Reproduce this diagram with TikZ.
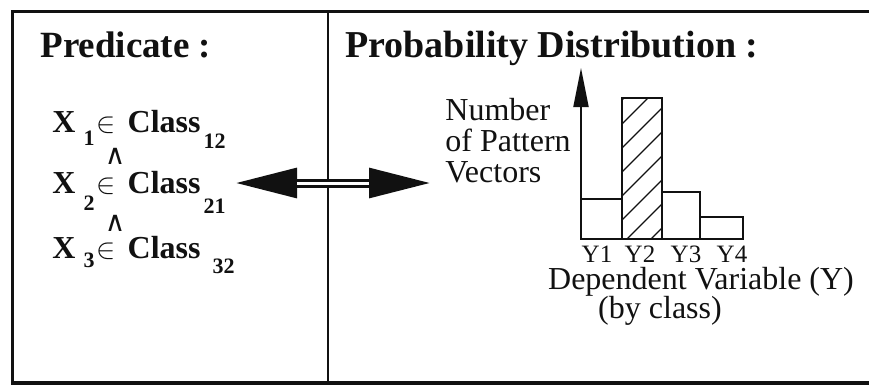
\documentclass[tikz,border=0pt]{standalone}
\usepackage{fontspec}
\setmainfont{Liberation Serif}
\newfontfamily\symfont{DejaVu Sans}
\usetikzlibrary{arrows.meta,positioning}
\definecolor{ink}{HTML}{111111}
\tikzset{
  frameline/.style ={draw=ink, line width=1.75pt},
  divline/.style   ={draw=ink, line width=1pt},
  headtxt/.style   ={font=\fontsize{18.5}{22}\selectfont\bfseries,
                     anchor=base west, inner sep=0pt, text=ink},
  condtxt/.style   ={font=\fontsize{16}{19}\selectfont\bfseries,
                     anchor=base west, inner sep=0pt, text=ink},
  andtxt/.style    ={font=\symfont\fontsize{14}{14}\selectfont,
                     anchor=base, inner sep=0pt, text=ink,
                     text height=6pt, text depth=0pt},
  plaintxt/.style  ={font=\fontsize{16}{15.5}\selectfont, align=left,
                     inner sep=0pt, text=ink},
  ytick/.style     ={font=\fontsize{12.5}{13}\selectfont, anchor=base,
                     inner sep=0pt, text=ink, text depth=0pt},
  barbox/.style    ={draw=ink, line width=1.4pt, line join=miter},
  hatchline/.style ={draw=ink, line width=0.7pt},
  axisarr/.style   ={-{Triangle[length=19.5pt,width=7.5pt]}, draw=ink,
                     line width=1pt},
  dblarr/.style    ={{Triangle[length=31.5pt,width=14pt]}-{Triangle[length=31.5pt,width=14pt]},
                     draw=ink, line width=4.5pt},
  dblinner/.style  ={draw=white, line width=1.5pt,
                     shorten <=31.5pt, shorten >=31.5pt},
}
% subscript lowered below the line
\newcommand{\lowsub}[2]{\raisebox{-#1}{\fontsize{11}{11}\selectfont\bfseries #2}}
\newcommand{\member}[5]{X\hspace{4pt}\lowsub{#2}{#1}\hspace{1pt}%
  {\fontsize{14}{14}\selectfont$\in$}\hspace{6pt}Class\hspace{#3}\lowsub{#5}{#4}}

\begin{document}
\begin{tikzpicture}[x=0.5pt, y=-0.5pt]
  \useasboundingbox (0,0) rectangle (869,386);

  % frame, open on the right
  \draw[frameline] (869,11.5) -| (12.5,383) -- (869,383);
  \draw[divline] (328,11.5) -- (328,383);

  % left panel
  \node[headtxt] (predtitle) at (40,57) {Predicate :};
  \node[condtxt] (cond1) at (52,132) {\member{1}{6.5pt}{1.5pt}{12}{8pt}};
  \node[condtxt] (cond2) at (52,193) {\member{2}{8.5pt}{1.5pt}{21}{10pt}};
  \node[condtxt] (cond3) at (52,258) {\member{3}{4.5pt}{6pt}{32}{7.5pt}};
  \node[andtxt] (and1) at (115,164) {∧};
  \node[andtxt] (and2) at (115,231) {∧};

  % link between the panels
  \coordinate (arrL) at (234,183);
  \coordinate (arrR) at (432,183);
  \draw[dblarr] (arrL) -- (arrR);
  \draw[dblinner] (arrL) -- (arrR);

  % right panel
  \node[headtxt, font=\fontsize{19}{22}\selectfont\bfseries] (disttitle) at (345,57)
    {Probability Distribution :};
  \node[plaintxt, anchor=base west] (ylab) at (445,182)
    {Number\\of Pattern\\Vectors};

  \coordinate (orig) at (581,239);
  \coordinate (ytop) at (581,68);
  \draw[axisarr] (orig) -- (ytop);

  \begin{scope}
    \clip (622,98) rectangle (662,239);
    \foreach \k in {0,...,7}
      \draw[hatchline] (610,112+24*\k) -- ++(70,-70);
  \end{scope}

  \foreach \xa/\xb/\top/\lab/\xc in {581/622/199/Y1/597, 622/662/98/Y2/640,
                                     662/700/192/Y3/686, 700/743/217/Y4/732}{
    \draw[barbox] (\xa,239) rectangle (\xb,\top);
    \node[ytick] (tick\lab) at (\xc,262) {\lab};
  }

  \node[plaintxt, anchor=base] (xlab) at (701,289) {Dependent Variable (Y)};
  \node[plaintxt, anchor=base] (bycls) at (660,318) {(by class)};
\end{tikzpicture}
\end{document}
